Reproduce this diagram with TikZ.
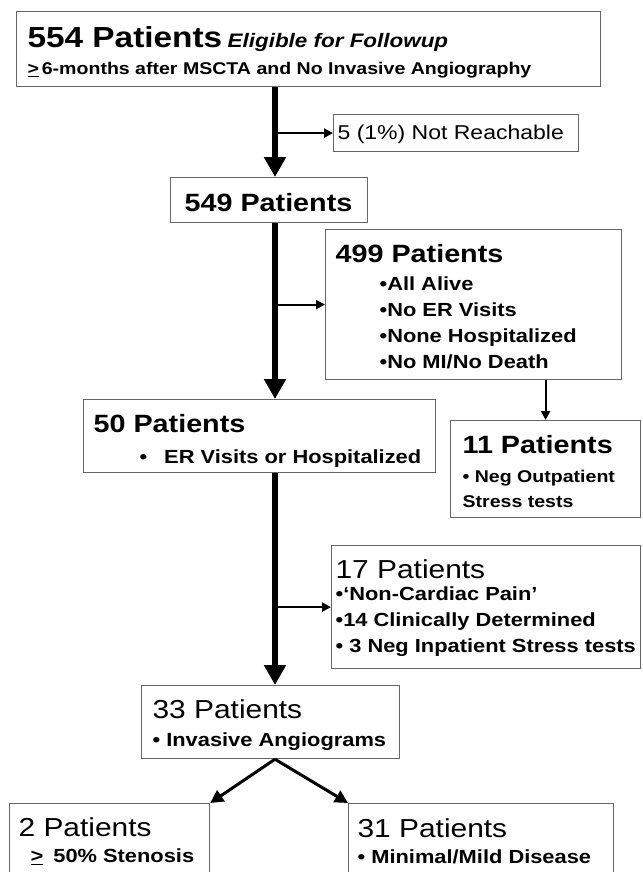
\documentclass[tikz,border=0pt]{standalone}
\usepackage{fontspec}
\setmainfont{Liberation Sans}[FakeStretch=1.15]
\usetikzlibrary{arrows.meta}
\tikzset{>=latex}

\newcommand{\hdbf}{\fontsize{25}{26}\selectfont\bfseries}
\newcommand{\hdrm}{\fontsize{26}{26}\selectfont\mdseries}
\newcommand{\btbf}{\fontsize{19}{26}\selectfont\bfseries}
\newcommand{\topstrut}[1]{\rule{0pt}{#1pt}}

\begin{document}
\begin{tikzpicture}[x=1pt, y=-1pt,
  box/.style={draw=black!60, line width=1.2pt, fill=white, anchor=north west,
    align=flush left, inner ysep=0pt},
  trunk/.style={line width=6pt, -{Triangle[length=20pt,width=21pt]}},
  side/.style={line width=2pt, -{Triangle[length=9pt,width=9pt]}},
  fork/.style={line width=3pt, -{Triangle[length=13pt,width=13pt]}}]
\useasboundingbox[fill=white] (0,0) rectangle (642,872);
\coordinate (trunk) at (275,0);

% boxes
\node[box, minimum width=584pt, minimum height=75pt, inner xsep=11pt, text width=562pt,
  font=\fontsize{17}{27}\selectfont\bfseries] (p554) at (16,11)
  {\topstrut{27.6}{\fontsize{29}{30}\selectfont 554 Patients} {\fontsize{19.5}{20}\selectfont\itshape Eligible for Followup}\\
   \underline{>}\,6-months after MSCTA and No Invasive Angiography};
\node[box, minimum width=245pt, minimum height=37pt, inner xsep=4pt, text width=237pt,
  font=\fontsize{20}{22}\selectfont] (lost) at (333,114)
  {\topstrut{16}5 (1\%) Not Reachable};
\node[box, minimum width=197pt, minimum height=45pt, inner xsep=14pt, text width=169pt] (p549) at (170,177)
  {\topstrut{23}\hdbf 549 Patients};
\node[box, minimum width=296pt, minimum height=150pt, inner xsep=10pt, text width=276pt, font=\btbf] (p499) at (325,229)
  {\topstrut{22}{\hdbf 499 Patients}\\[2pt]
   \hspace*{44pt}•All Alive\\
   \hspace*{44pt}•No ER Visits\\
   \hspace*{44pt}•None Hospitalized\\
   \hspace*{44pt}•No MI/No Death};
\node[box, minimum width=352pt, minimum height=73pt, inner xsep=10pt, text width=332pt, font=\btbf] (p50) at (83,399)
  {\topstrut{28}{\hdbf 50 Patients}\\[5pt]
   \hspace*{46pt}•\hspace{17pt}ER Visits or Hospitalized};
\node[box, minimum width=190pt, minimum height=97pt, inner xsep=12pt, text width=166pt,
  font=\fontsize{17}{25}\selectfont\bfseries] (p11) at (450,420)
  {\topstrut{23}{\hdbf 11 Patients}\\[4pt]
   • Neg Outpatient\\
   Stress tests};
\node[box, minimum width=309pt, minimum height=123pt, inner xsep=4pt, text width=301pt, font=\btbf] (p17) at (331,545)
  {\topstrut{21}{\hdrm 17 Patients}\\[-4pt]
   •‘Non-Cardiac Pain’\\
   •14 Clinically Determined\\
   • 3 Neg Inpatient Stress tests};
\node[box, minimum width=258pt, minimum height=73pt, inner xsep=11pt, text width=236pt, font=\btbf] (p33) at (141,685)
  {\topstrut{25}{\hdrm 33 Patients}\\[2pt]
   • Invasive Angiograms};
\node[box, minimum width=200pt, minimum height=75pt, inner xsep=9pt, text width=182pt, font=\btbf] (p2) at (9,803)
  {\topstrut{19}{\hdrm 2 Patients}\\
   \hspace*{12pt}\underline{>}\hspace{10pt}50\% Stenosis};
\node[box, minimum width=265pt, minimum height=75pt, inner xsep=9pt, text width=247pt, font=\btbf] (p31) at (348,803)
  {\topstrut{19}{\hdrm 31 Patients}\\
   • Minimal/Mild Disease};

% main line
\draw[trunk] (trunk |- p554.south) -- (trunk |- p549.north);
\draw[trunk] (trunk |- p549.south) -- (trunk |- p50.north);
\draw[trunk] (trunk |- p50.south) -- (trunk |- p33.north);

% side exits
\draw[side] (trunk |- lost.west) -- (lost.west);
\draw[side] (trunk |- p499.west) -- (p499.west);
\draw[side] (trunk |- p17.west) -- (p17.west);
\draw[side] (p11.north |- p499.south) -- (p11.north);

% split
\draw[fork] (trunk |- p33.south) -- (p2.north east);
\draw[fork] (trunk |- p33.south) -- (p31.north west);
\end{tikzpicture}
\end{document}
